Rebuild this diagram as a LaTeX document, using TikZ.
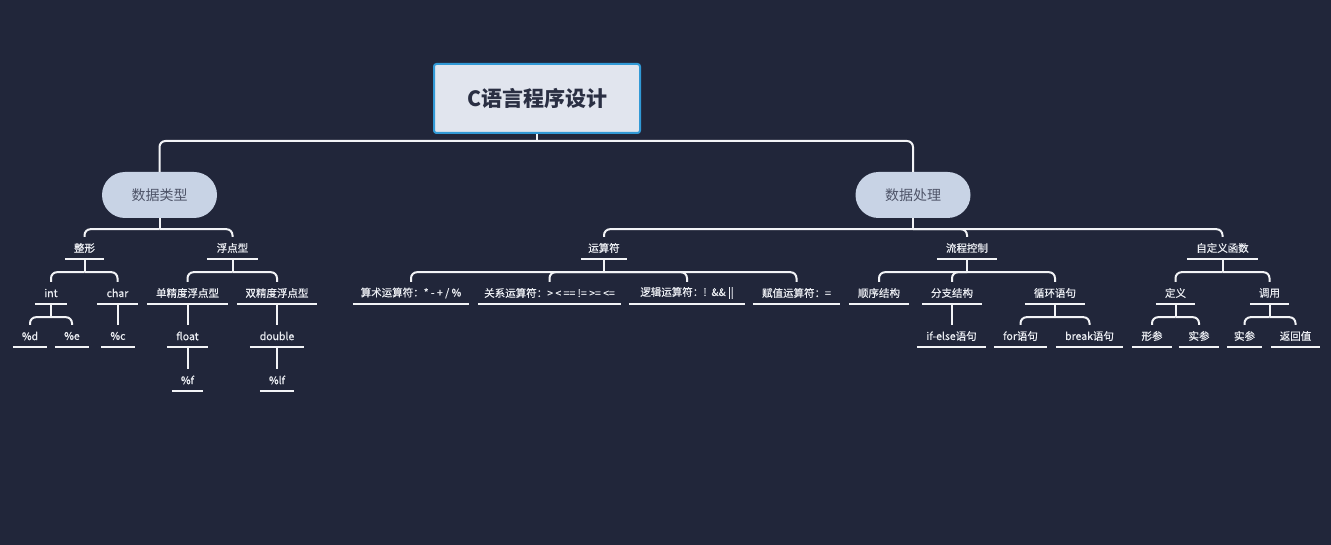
\documentclass[tikz,border=0pt]{standalone}
\usepackage{fontspec}
\setmainfont{Noto Sans CJK SC}
\newfontfamily\lblfont{Noto Sans CJK SC}[FakeBold=0.5]
\usetikzlibrary{calc}
\definecolor{bg}{HTML}{21263A}
\definecolor{linec}{HTML}{F2F3F6}
\definecolor{txt}{HTML}{ECEEF3}
\definecolor{rootfill}{HTML}{E1E5EE}
\definecolor{rootdraw}{HTML}{3199D6}
\definecolor{roottxt}{HTML}{2A2F43}
\definecolor{lvfill}{HTML}{C8D3E5}
\definecolor{lvtxt}{HTML}{4E5468}
\newcommand\mystem[2][13]{\draw[conn] (#2.south) -- ++(0,#1) coordinate (#2-j);}
\newcommand\myfork[2]{\draw[conn,rounded corners=6pt] (#1-j) -| (#2.north);}
\newcommand\mysingle[2]{\draw[conn] (#1.south) -- (#1.south |- #2.north);}
\begin{document}
\begin{tikzpicture}[x=1pt,y=-1pt,
  conn/.style={draw=linec, line width=2pt},
  rootbox/.style={draw=rootdraw, line width=2pt, fill=rootfill, rounded corners=2.5pt,
    minimum width=206pt, minimum height=69pt, inner sep=0pt, text=roottxt,
    font=\fontsize{21}{24}\selectfont\bfseries},
  lvone/.style={fill=lvfill, rounded corners=23pt, minimum width=115pt, minimum height=46pt,
    inner sep=0pt, text=lvtxt, font=\fontsize{14}{16}\selectfont},
  ulnode/.style={text=txt, font=\lblfont\fontsize{10.5}{12}\selectfont, inner sep=0pt,
    minimum width=#1, minimum height=22pt,
    append after command={(\tikzlastnode.south west) edge[draw=linec, line width=2pt] (\tikzlastnode.south east)}}
]
\useasboundingbox[fill=bg] (0,0) rectangle (1331,545);

% root and level 1
\node[rootbox] (root) at (537,98.5) {C语言程序设计};
\node[lvone] (sj) at (159.5,195) {数据类型};
\node[lvone] (cl) at (913,195) {数据处理};

% level 2
\node[ulnode=39pt] (zx) at (84.5,248) {整形};
\node[ulnode=51pt] (fd) at (232.5,248) {浮点型};
\node[ulnode=46pt] (ys) at (604,248) {运算符};
\node[ulnode=60pt] (lc) at (967,248) {流程控制};
\node[ulnode=71pt] (zd) at (1222.5,248) {自定义函数};

% level 3
\node[ulnode=32pt] (int) at (51,293) {int};
\node[ulnode=41pt] (char) at (117.5,293) {char};
\node[ulnode=81pt] (dan) at (187.5,293) {单精度浮点型};
\node[ulnode=80pt] (shuang) at (277,293) {双精度浮点型};
\node[ulnode=116pt] (ss) at (411,293) {算术运算符：* - + / \%};
\node[ulnode=143pt] (gx) at (549.5,293) {关系运算符：> < == != >= <=};
\node[ulnode=116pt] (lj) at (687,293) {逻辑运算符：!\ \ \&\& ||};
\node[ulnode=87pt] (fz) at (796.5,293) {赋值运算符：=};
\node[ulnode=60pt] (sx) at (879,293) {顺序结构};
\node[ulnode=60pt] (fen) at (952,293) {分支结构};
\node[ulnode=60pt] (xh) at (1055,293) {循环语句};
\node[ulnode=39pt] (dy) at (1175.5,293) {定义};
\node[ulnode=39pt] (dyong) at (1269.5,293) {调用};

% level 4
\node[ulnode=34pt] (pd) at (30,336) {\%d};
\node[ulnode=34pt] (pe) at (72,336) {\%e};
\node[ulnode=34pt] (pc) at (118,336) {\%c};
\node[ulnode=41pt] (fl) at (187.5,336) {float};
\node[ulnode=54pt] (db) at (277,336) {double};
\node[ulnode=69pt] (ife) at (951.5,336) {if-else语句};
\node[ulnode=53pt] (for) at (1020.5,336) {for语句};
\node[ulnode=67pt] (brk) at (1089.5,336) {break语句};
\node[ulnode=40pt] (xc) at (1152,336) {形参};
\node[ulnode=40pt] (sc) at (1199,336) {实参};
\node[ulnode=35pt] (sc2) at (1244.5,336) {实参};
\node[ulnode=49pt] (fhz) at (1295.5,336) {返回值};

% level 5
\node[ulnode=31pt] (pf) at (187.5,380) {\%f};
\node[ulnode=34pt] (plf) at (277,380) {\%lf};

% connectors
\mystem[7]{root}
\myfork{root}{sj}
\myfork{root}{cl}

\mystem[11]{sj}
\myfork{sj}{zx}
\myfork{sj}{fd}
\mystem[11]{cl}
\myfork{cl}{ys}
\myfork{cl}{lc}
\myfork{cl}{zd}

\mystem{zx}
\myfork{zx}{int}
\myfork{zx}{char}
\mystem{fd}
\myfork{fd}{dan}
\myfork{fd}{shuang}
\mystem{ys}
\myfork{ys}{ss}
\myfork{ys}{gx}
\myfork{ys}{lj}
\myfork{ys}{fz}
\mystem{lc}
\myfork{lc}{sx}
\myfork{lc}{fen}
\myfork{lc}{xh}
\mystem{zd}
\myfork{zd}{dy}
\myfork{zd}{dyong}

\mystem{int}
\myfork{int}{pd}
\myfork{int}{pe}
\mysingle{char}{pc}
\mysingle{dan}{fl}
\mysingle{shuang}{db}
\mysingle{fen}{ife}
\mystem{xh}
\myfork{xh}{for}
\myfork{xh}{brk}
\mystem{dy}
\myfork{dy}{xc}
\myfork{dy}{sc}
\mystem{dyong}
\myfork{dyong}{sc2}
\myfork{dyong}{fhz}

\mysingle{fl}{pf}
\mysingle{db}{plf}
\end{tikzpicture}
\end{document}
